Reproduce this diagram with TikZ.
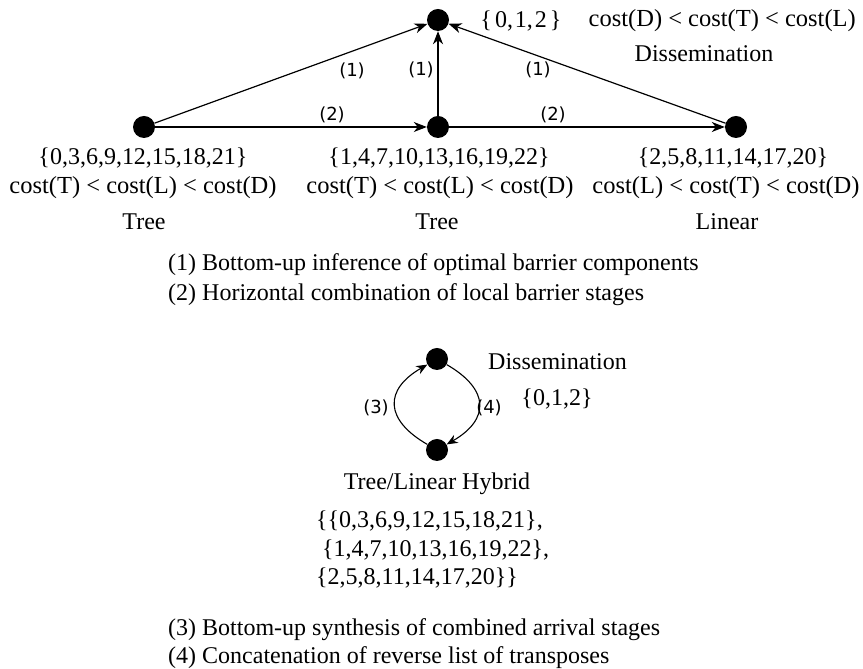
\documentclass[tikz,border=0pt]{standalone}
\usepackage{fontspec}
\setmainfont{Liberation Serif}
\newfontfamily\lblfont{DejaVu Sans}
\usetikzlibrary{arrows.meta}
\begin{document}
\begin{tikzpicture}[x=1pt,y=1pt,
  vertex/.style={circle,fill=black,inner sep=0pt,minimum size=22pt},
  txt/.style={inner sep=0pt,font=\fontsize{24}{28}\selectfont},
  costtxt/.style={inner sep=0pt,font=\fontsize{24.5}{28}\selectfont},
  elabel/.style={inner sep=0pt,font=\lblfont\fontsize{18}{21}\selectfont},
  edge/.style={line width=1.2pt,-{Stealth[length=13pt,width=10pt,inset=4pt]}},
  arc/.style={line width=1.1pt,-{Stealth[length=11pt,width=9pt,inset=3.5pt]}},
  ]
\useasboundingbox (0,0) rectangle (863,669);

% upper graph
\node[vertex] (D) at (438,649) {};
\node[vertex] (L) at (144,542) {};
\node[vertex] (M) at (438,542) {};
\node[vertex] (R) at (736,542) {};

\draw[edge] (L) -- (D);
\draw[edge] (M) -- (D);
\draw[edge] (R) -- (D);
\draw[edge] (L) -- (M);
\draw[edge] (M) -- (R);

\node[elabel] (l1a) at (352,598) {(1)};
\node[elabel] (l1b) at (421,599) {(1)};
\node[elabel] (l1c) at (538,599) {(1)};
\node[elabel] (l2a) at (332,554) {(2)};
\node[elabel] (l2b) at (553,554) {(2)};

\node[txt] (dset) at (521,648) {\{\kern3pt0,\kern2pt1,\kern2pt2\kern3pt\}};
\node[costtxt,anchor=east] (dcost) at (856,648) {cost(D) < cost(T) < cost(L)};
\node[txt] (dname) at (704,615) {Dissemination};

\node[txt] (lset) at (143,511) {\{0,3,6,9,12,15,18,21\}};
\node[costtxt] (lcost) at (143,481) {cost(T) < cost(L) < cost(D)};
\node[txt] (lname) at (144,447) {Tree};

\node[txt] (mset) at (439,511) {\{1,4,7,10,13,16,19,22\}};
\node[costtxt] (mcost) at (440,481) {cost(T) < cost(L) < cost(D)};
\node[txt] (mname) at (437,447) {Tree};

\node[txt] (rset) at (733,511) {\{2,5,8,11,14,17,20\}};
\node[costtxt] (rcost) at (726,481) {cost(L) < cost(T) < cost(D)};
\node[txt] (rname) at (727,447) {Linear};

\node[txt,anchor=west] (cap1) at (168,404) {(1) Bottom-up inference of optimal barrier components};
\node[txt,anchor=west] (cap2) at (168,374) {(2) Horizontal combination of local barrier stages};

% lower graph
\node[vertex] (T) at (437,310) {};
\node[vertex] (B) at (437,219) {};

\draw[arc] (B) to[out=150,in=210,looseness=1.6] (T);
\draw[arc] (T) to[out=-30,in=30,looseness=1.6] (B);

\node[elabel] (l3) at (376,261) {(3)};
\node[elabel] (l4) at (489,261) {(4)};

\node[txt,anchor=west] (tname) at (488,307) {Dissemination};
\node[txt] (tset) at (557,270) {\{0,1,2\}};

\node[txt] (bname) at (437,185) {Tree/Linear Hybrid};
\node[txt,anchor=west] (bset1) at (316,148) {\{\{0,3,6,9,12,15,18,21\},};
\node[txt,anchor=west] (bset2) at (322,119) {\{1,4,7,10,13,16,19,22\},};
\node[txt,anchor=west] (bset3) at (316,91) {\{2,5,8,11,14,17,20\}\}};

\node[txt,anchor=west] (cap3) at (168,39) {(3) Bottom-up synthesis of combined arrival stages};
\node[txt,anchor=west] (cap4) at (168,11) {(4) Concatenation of reverse list of transposes};
\end{tikzpicture}
\end{document}
